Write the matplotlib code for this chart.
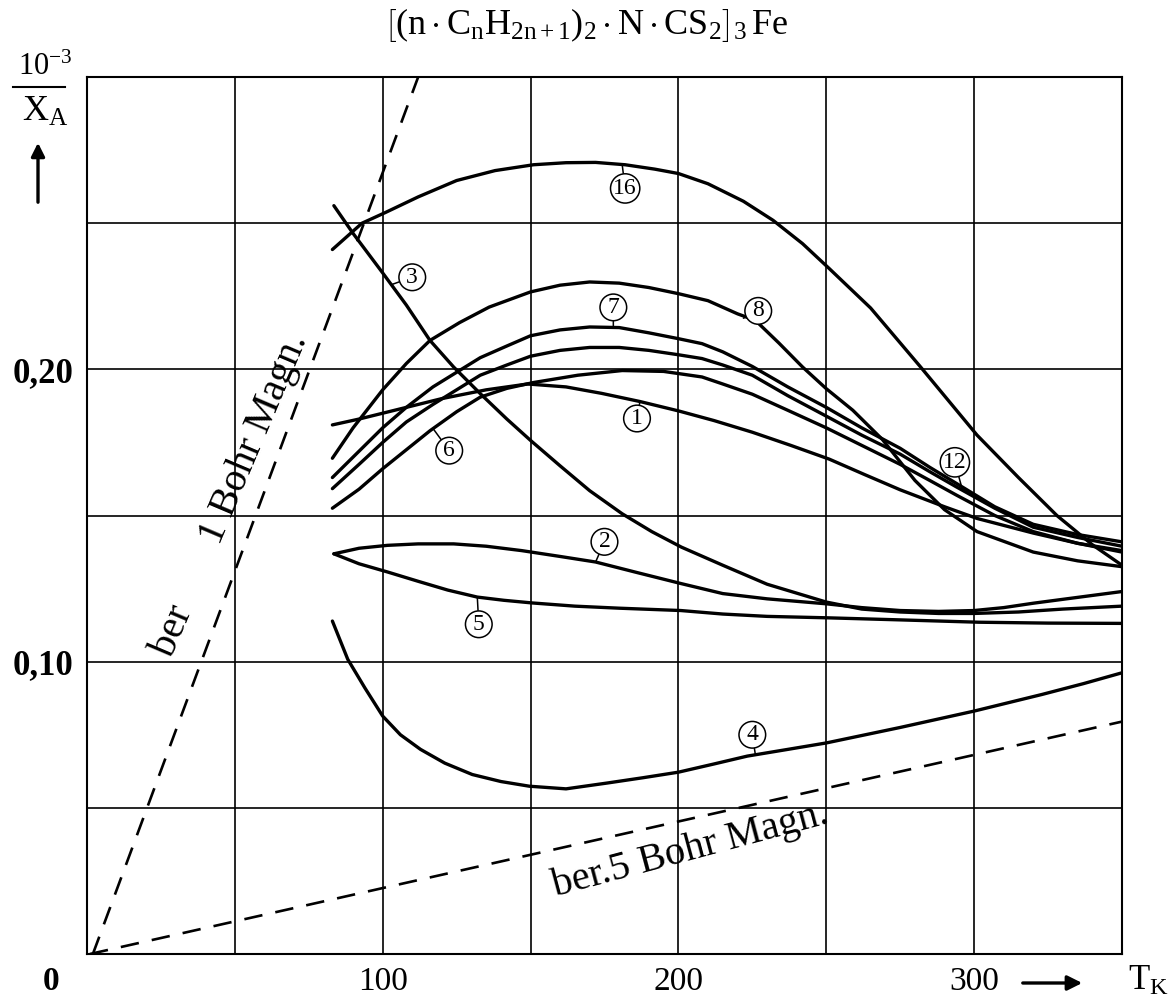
import numpy as np
import matplotlib
matplotlib.use("Agg")
import matplotlib.pyplot as plt

plt.rcParams['font.family'] = ['Liberation Serif', 'DejaVu Serif']
plt.rcParams['mathtext.fontset'] = 'custom'
plt.rcParams['mathtext.rm'] = 'Liberation Serif'
plt.rcParams['mathtext.it'] = 'Liberation Serif:italic'

# --- data (T in K, 1e-3/chi_A) ---
c16_T = [83, 93, 101, 112, 125, 138, 151, 162, 172, 182, 192, 200, 210, 222, 232, 242, 251, 265, 282, 301, 315, 328, 340, 350]
c16_y = [0.241, 0.250, 0.2537, 0.259, 0.2646, 0.268, 0.270, 0.2707, 0.2708, 0.270, 0.2685, 0.267, 0.2635, 0.2575,
         0.251, 0.243, 0.2345, 0.221, 0.2007, 0.1775, 0.163, 0.150, 0.140, 0.133]

c8_T = [83, 90, 100, 108, 116, 126, 136, 150, 160, 170, 180, 190, 200, 210, 220, 226, 234, 242, 250, 259, 269, 280, 290, 301, 320, 335, 350]
c8_y = [0.1696, 0.180, 0.193, 0.202, 0.2099, 0.216, 0.2213, 0.2265, 0.2288, 0.2299, 0.2295, 0.228, 0.2259, 0.2235,
        0.219, 0.2168, 0.209, 0.2008, 0.1934, 0.186, 0.176, 0.162, 0.152, 0.1445, 0.1375, 0.1345, 0.1325]

c7_T = [83, 92, 100, 108, 117, 125, 133, 142, 150, 160, 170, 180, 190, 200, 208, 215, 225, 237, 250, 262, 275, 285, 294, 307, 320, 335, 350]
c7_y = [0.163, 0.172, 0.180, 0.187, 0.194, 0.199, 0.204, 0.208, 0.2115, 0.2135, 0.2145, 0.2143, 0.2125, 0.2105,
        0.2088, 0.206, 0.201, 0.194, 0.187, 0.180, 0.173, 0.1665, 0.161, 0.153, 0.147, 0.1435, 0.141]

c12_T = [83, 92, 100, 108, 117, 125, 133, 142, 150, 160, 170, 180, 190, 200, 208, 215, 225, 237, 250, 262, 275, 285, 294, 307, 320, 335, 350]
c12_y = [0.1592, 0.1675, 0.175, 0.182, 0.188, 0.193, 0.198, 0.2015, 0.2045, 0.2065, 0.2075, 0.2075, 0.2065, 0.205,
         0.2037, 0.2015, 0.198, 0.191, 0.184, 0.1775, 0.171, 0.165, 0.1598, 0.1525, 0.146, 0.1425, 0.1395]

c6_T = [83, 92, 100, 108, 116, 125, 133, 142, 151, 166, 181, 195, 208, 215, 225, 237, 250, 262, 275, 285, 294, 307, 320, 335, 350]
c6_y = [0.1525, 0.159, 0.166, 0.1725, 0.179, 0.1855, 0.1905, 0.1935, 0.1955, 0.198, 0.1996, 0.1993, 0.1974, 0.195,
        0.1915, 0.186, 0.180, 0.174, 0.1675, 0.162, 0.157, 0.150, 0.1445, 0.1405, 0.1375]

c1_T = [83, 92, 100, 110, 120, 135, 149, 162, 174, 187, 200, 212, 225, 238, 251, 263, 275, 290, 301, 320, 335, 350]
c1_y = [0.181, 0.183, 0.185, 0.1875, 0.190, 0.193, 0.195, 0.194, 0.1918, 0.189, 0.1858, 0.1825, 0.1785, 0.174,
        0.1693, 0.164, 0.1588, 0.153, 0.149, 0.144, 0.1405, 0.138]

c3_T = [83.5, 90, 100, 108, 116, 124, 133, 142, 150, 160, 170, 181, 191, 201, 215, 230, 250, 262, 275, 288, 300, 315, 330, 350]
c3_y = [0.256, 0.2465, 0.233, 0.222, 0.2099, 0.2008, 0.1917, 0.183, 0.1757, 0.167, 0.1585, 0.1506, 0.1445, 0.1392,
        0.133, 0.1265, 0.1204, 0.118, 0.117, 0.1165, 0.1165, 0.117, 0.118, 0.119]

c2_T = [83.5, 92, 101.6, 112, 124, 135, 147, 160, 172, 186, 201, 215, 230, 250, 262, 275, 288, 300, 310, 320, 335, 350]
c2_y = [0.1369, 0.1388, 0.1398, 0.1403, 0.1403, 0.1395, 0.138, 0.136, 0.1341, 0.1305, 0.1267, 0.1233, 0.1215,
        0.1198, 0.1185, 0.1175, 0.1172, 0.1175, 0.1185, 0.120, 0.122, 0.124]

c5_T = [83.5, 92, 101.6, 112, 122, 132, 141, 150.5, 165, 180, 200.8, 215, 230, 250.7, 275, 301.6, 325, 350]
c5_y = [0.1369, 0.1335, 0.1307, 0.1275, 0.1245, 0.1221, 0.121, 0.1201, 0.119, 0.1183, 0.1175, 0.1163, 0.1155,
        0.115, 0.1143, 0.1135, 0.1132, 0.1131]

c4_T = [83, 88.2, 94, 100, 106, 112.8, 121, 130.3, 140, 149.6, 162, 176, 188, 200, 212, 223.3, 237, 250, 275, 300, 323, 337, 350]
c4_y = [0.1139, 0.1008, 0.091, 0.0814, 0.075, 0.070, 0.0653, 0.0614, 0.059, 0.0574, 0.0565, 0.0585, 0.0603, 0.0622,
        0.065, 0.0677, 0.070, 0.0722, 0.0775, 0.0831, 0.0888, 0.0925, 0.0962]

# calculated lines (dashed)
bohr1_T = [2, 112]
bohr1_y = [0.0, 0.30]
bohr5_T = [1, 350]
bohr5_y = [0.0, 0.0795]

curves = [(c16_T, c16_y), (c8_T, c8_y), (c7_T, c7_y), (c12_T, c12_y), (c6_T, c6_y),
          (c1_T, c1_y), (c3_T, c3_y), (c2_T, c2_y), (c5_T, c5_y), (c4_T, c4_y)]

# curve labels: text, point on curve, label position
labels = [('16', (181, 0.2700), (182, 0.2619)),
          ('3', (103, 0.229), (110, 0.2315)),
          ('8', (222, 0.2175), (227, 0.2200)),
          ('7', (178, 0.2144), (178, 0.2212)),
          ('1', (187, 0.1890), (186, 0.1832)),
          ('6', (117, 0.1798), (122.5, 0.1722)),
          ('12', (296, 0.1590), (293.5, 0.1682)),
          ('2', (172, 0.1341), (175, 0.1410)),
          ('5', (132, 0.1221), (132.5, 0.1128)),
          ('4', (226, 0.0684), (225, 0.0750))]

fig = plt.figure(figsize=(11.72, 10.02), dpi=100)
ax = fig.add_axes([0.0742, 0.0479, 0.8831, 0.8752])

for T, y in curves:
    ax.plot(T, y, color='black', lw=2.4, solid_capstyle='round', solid_joinstyle='round', zorder=3)

ax.plot(bohr1_T, bohr1_y, color='black', lw=1.9, dashes=(7, 5), zorder=3)
ax.plot(bohr5_T, bohr5_y, color='black', lw=1.9, dashes=(7, 5), zorder=3)

for txt, pt, pos in labels:
    ax.annotate(txt, xy=pt, xytext=pos, ha='center', va='center', fontsize=17, zorder=5,
                bbox=dict(boxstyle='circle,pad=0.12', fc='white', ec='black', lw=1.1),
                arrowprops=dict(arrowstyle='-', lw=1.1, color='black', shrinkA=0, shrinkB=0))

# text along the dashed lines
ax.text(48.5, 0.157, 'ber       1 Bohr Magn.', rotation=67, ha='center', va='center', fontsize=29)
ax.text(204, 0.0355, 'ber.5 Bohr Magn.', rotation=15, ha='center', va='center', fontsize=29)

ax.set_xlim(0, 350)
ax.set_ylim(0, 0.30)
ax.set_xticks(np.arange(0, 351, 50))
ax.set_xticklabels(['', '', '100', '', '200', '', '300', ''])
ax.set_yticks(np.arange(0, 0.301, 0.05))
ax.set_yticklabels(['', '', '0,10', '', '0,20', '', ''], fontweight='bold')
ax.tick_params(axis='x', length=0, labelsize=24, pad=9)
ax.tick_params(axis='y', length=0, labelsize=25, pad=10)
ax.grid(True, color='black', lw=1.2)
for s in ax.spines.values():
    s.set_linewidth(1.5)

# corner "0", axis captions
ax.text(-12, -0.0095, '0', ha='center', va='center', fontsize=24, fontweight='bold', clip_on=False)
ax.annotate('', xy=(1085, 1002 - 983), xytext=(1020, 1002 - 983), xycoords='figure pixels',
            arrowprops=dict(arrowstyle='-|>', lw=2.4, color='black', mutation_scale=22))
fig.text(1128 / 1172, 1 - 981 / 1002, r'$\mathrm{T_K}$', fontsize=25, va='center', ha='left')

fig.text(45 / 1172, 1 - 67 / 1002, r'$\mathrm{10^{-3}}$', fontsize=22, ha='center', va='center')
fig.add_artist(plt.Line2D([13 / 1172, 65 / 1172], [1 - 87 / 1002, 1 - 87 / 1002], color='black', lw=1.5))
fig.text(45 / 1172, 1 - 112 / 1002, r'$\mathrm{X_A}$', fontsize=26, ha='center', va='center')
ax.annotate('', xy=(38, 1002 - 140), xytext=(38, 1002 - 205), xycoords='figure pixels',
            arrowprops=dict(arrowstyle='-|>', lw=2.4, color='black', mutation_scale=20))

fig.text(0.50, 1 - 25 / 1002,
         r'$\left[(\mathrm{n}\cdot\mathrm{C_nH_{2n+1}})_2\cdot\mathrm{N}\cdot\mathrm{CS_2}\right]_3\,\mathrm{Fe}$',
         fontsize=26, ha='center', va='center')

fig.savefig('out.png', dpi=100, facecolor='white')
